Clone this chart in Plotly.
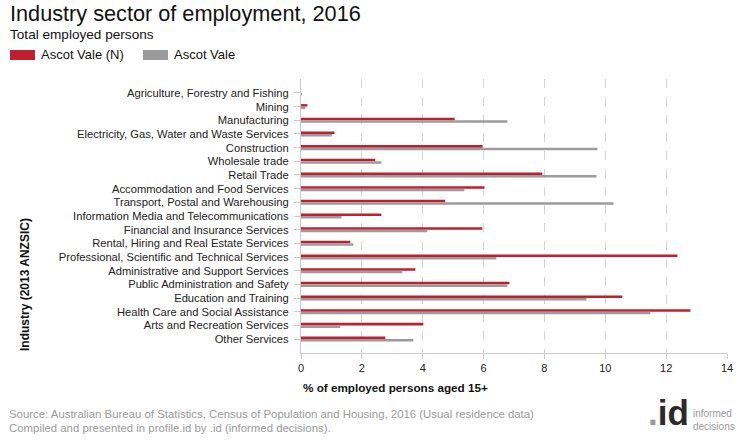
import plotly.graph_objects as go

categories = [
    "Agriculture, Forestry and Fishing",
    "Mining",
    "Manufacturing",
    "Electricity, Gas, Water and Waste Services",
    "Construction",
    "Wholesale trade",
    "Retail Trade",
    "Accommodation and Food Services",
    "Transport, Postal and Warehousing",
    "Information Media and Telecommunications",
    "Financial and Insurance Services",
    "Rental, Hiring and Real Estate Services",
    "Professional, Scientific and Technical Services",
    "Administrative and Support Services",
    "Public Administration and Safety",
    "Education and Training",
    "Health Care and Social Assistance",
    "Arts and Recreation Services",
    "Other Services",
]
ascot_vale_n = [0.0, 0.21, 5.05, 1.10, 5.97, 2.44, 7.93, 6.03, 4.74, 2.64,
                5.96, 1.62, 12.37, 3.76, 6.85, 10.56, 12.80, 4.02, 2.77]
ascot_vale = [0.02, 0.14, 6.78, 1.01, 9.74, 2.64, 9.71, 5.37, 10.27, 1.33,
              4.15, 1.72, 6.42, 3.33, 6.78, 9.38, 11.48, 1.29, 3.69]
series_names = ["Ascot Vale (N)", "Ascot Vale"]
x_ticks = [0, 2, 4, 6, 8, 10, 12, 14]

RED = "#C01F2F"
GREY = "#9B9B9B"
FONT = "Arial, Liberation Sans, sans-serif"

W, H = 740, 440
L, R, T, B = 301, 13, 79, 87
PW, PH = W - L - R, H - T - B


def px(x):
    return (x - L) / PW


def py(y):
    return (H - B - y) / PH


fig = go.Figure()
fig.add_trace(go.Bar(y=categories, x=ascot_vale_n, orientation="h", name=series_names[0],
                     marker=dict(color=RED, line=dict(width=0))))
fig.add_trace(go.Bar(y=categories, x=ascot_vale, orientation="h", name=series_names[1],
                     marker=dict(color=GREY, line=dict(width=0))))

fig.update_layout(
    width=W, height=H,
    margin=dict(l=L, r=R, t=T, b=B, pad=0, autoexpand=False),
    paper_bgcolor="white", plot_bgcolor="white",
    barmode="group", bargap=0.63, bargroupgap=0,
    showlegend=False,
    font=dict(family=FONT, size=11, color="#222"),
    xaxis=dict(range=[0, 14], tickvals=x_ticks, showgrid=True, gridcolor="#d4d4d4",
               griddash="dash", gridwidth=1, zeroline=False, showline=True, automargin=False,
               linecolor="#cccccc", ticks="outside", ticklen=5, tickcolor="#cccccc",
               tickfont=dict(size=11, color="#222", family=FONT), fixedrange=True),
    yaxis=dict(type="category", categoryorder="array", categoryarray=categories,
               range=[19.02, -1.02], showgrid=False, zeroline=False, showline=True,
               automargin=False,
               linecolor="#cccccc", ticks="outside", ticklen=6, tickcolor="#cccccc",
               tickfont=dict(size=11.2, color="#222", family=FONT), ticksuffix=" "),
)

ann = []
ann.append(dict(text="Industry sector of employment, 2016", x=px(8), y=py(14),
                xanchor="left", yanchor="middle", font=dict(size=21.7, color="#111", family=FONT)))
ann.append(dict(text="Total employed persons", x=px(8), y=py(34),
                xanchor="left", yanchor="middle", font=dict(size=13.6, color="#111", family=FONT)))
# legend
legend_items = [(series_names[0], RED, 10, 39), (series_names[1], GREY, 143, 172)]
shapes = []
for name, col, sx, tx in legend_items:
    shapes.append(dict(type="rect", xref="paper", yref="paper", x0=px(sx), x1=px(sx + 25),
                       y0=py(60), y1=py(50), fillcolor=col, line=dict(width=0)))
    ann.append(dict(text=name, x=px(tx), y=py(54.5), xanchor="left", yanchor="middle",
                    font=dict(size=13, color="#111", family=FONT)))
ann.append(dict(text="<b>Industry (2013 ANZSIC)</b>", x=px(25), y=py(285), textangle=-90,
                xanchor="center", yanchor="middle", font=dict(size=12, color="#111", family=FONT)))
ann.append(dict(text="<b>% of employed persons aged 15+</b>", x=px(301), y=py(387),
                xanchor="left", yanchor="middle", font=dict(size=11.7, color="#111", family=FONT)))
ann.append(dict(text="Source: Australian Bureau of Statistics, Census of Population and Housing, 2016 (Usual residence data)",
                x=px(7), y=py(414), xanchor="left", yanchor="middle",
                font=dict(size=11.4, color="#9a9a9a", family=FONT)))
ann.append(dict(text="Compiled and presented in profile.id by .id (informed decisions).",
                x=px(7), y=py(428), xanchor="left", yanchor="middle",
                font=dict(size=11.4, color="#9a9a9a", family=FONT)))
ann.append(dict(text="<span style='color:#9a9a9a'>.</span>id", x=px(691), y=py(434),
                xanchor="right", yanchor="bottom",
                font=dict(size=35, color="#2a2a2a", family=FONT, weight="bold")))
ann.append(dict(text="informed<br>decisions", x=px(691), y=py(420), xanchor="left", yanchor="middle",
                align="left", font=dict(size=10, color="#9a9a9a",
                                         family="Liberation Sans Narrow, Arial Narrow, Liberation Sans")))
for a in ann:
    a.update(xref="paper", yref="paper", showarrow=False)
fig.update_layout(annotations=ann, shapes=shapes)

fig.write_html("out.html")
